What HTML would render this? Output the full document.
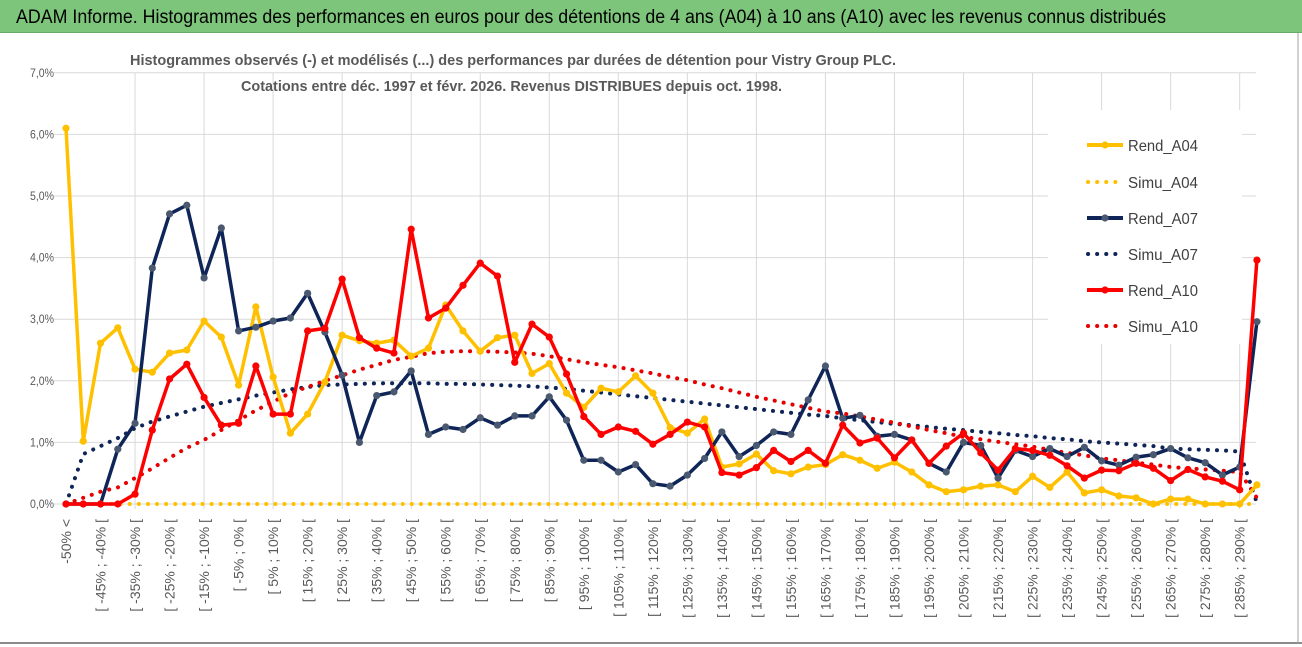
<!DOCTYPE html>
<html><head><meta charset="utf-8">
<style>
html,body{margin:0;padding:0;background:#fff;width:1302px;height:647px;overflow:hidden;font-family:"Liberation Sans",sans-serif;}
#title{position:absolute;left:0;top:0;width:1302px;height:32px;background:#7cc57a;border-bottom:1px solid #6aa868;}
svg{position:absolute;left:0;top:0;}
</style></head>
<body>
<div id="title"></div>
<svg id="chart" width="1302" height="647">
<text x="16" y="23" font-size="19" fill="#000" textLength="1150" lengthAdjust="spacingAndGlyphs">ADAM Informe. Histogrammes des performances en euros pour des détentions de 4 ans (A04) à 10 ans (A10) avec les revenus connus distribués</text>
</svg>
<script>
const rendA04=[6.1,1.02,2.61,2.86,2.19,2.14,2.45,2.5,2.97,2.71,1.93,3.2,2.06,1.15,1.46,1.98,2.74,2.65,2.61,2.66,2.4,2.53,3.23,2.81,2.48,2.7,2.74,2.12,2.28,1.8,1.57,1.88,1.82,2.08,1.8,1.24,1.15,1.38,0.6,0.65,0.81,0.54,0.49,0.6,0.64,0.8,0.71,0.58,0.68,0.52,0.31,0.2,0.23,0.29,0.31,0.2,0.45,0.27,0.52,0.18,0.23,0.13,0.1,0.0,0.08,0.08,0.0,0.0,0.0,0.31];
const rendA07=[0,0,0,0.89,1.31,3.83,4.71,4.85,3.67,4.48,2.81,2.87,2.97,3.02,3.42,2.79,2.09,1.0,1.76,1.82,2.16,1.13,1.25,1.21,1.4,1.28,1.43,1.43,1.74,1.36,0.71,0.71,0.52,0.64,0.33,0.29,0.47,0.74,1.17,0.77,0.95,1.17,1.13,1.69,2.24,1.39,1.44,1.1,1.13,1.04,0.66,0.52,1.0,0.95,0.42,0.87,0.77,0.9,0.77,0.92,0.7,0.63,0.76,0.8,0.9,0.75,0.67,0.47,0.6,2.96];
const rendA10=[0,0,0,0,0.16,1.2,2.03,2.27,1.73,1.28,1.31,2.24,1.46,1.46,2.81,2.85,3.65,2.7,2.53,2.45,4.46,3.02,3.18,3.55,3.91,3.7,2.3,2.92,2.71,2.11,1.42,1.13,1.25,1.18,0.97,1.13,1.33,1.25,0.51,0.47,0.59,0.87,0.69,0.87,0.66,1.28,0.99,1.07,0.75,1.04,0.66,0.94,1.15,0.83,0.55,0.9,0.87,0.79,0.62,0.42,0.55,0.54,0.66,0.58,0.38,0.56,0.44,0.37,0.23,3.96];
const simuA04=[0,0,0,0,0,0,0,0,0,0,0,0,0,0,0,0,0,0,0,0,0,0,0,0,0,0,0,0,0,0,0,0,0,0,0,0,0,0,0,0,0,0,0,0,0,0,0,0,0,0,0,0,0,0,0,0,0,0,0,0,0,0,0,0,0,0,0,0,0,0];
const simuA07=[0,0.81,0.94,1.07,1.23,1.34,1.42,1.5,1.58,1.64,1.7,1.76,1.81,1.86,1.9,1.93,1.94,1.95,1.96,1.96,1.96,1.96,1.95,1.95,1.94,1.93,1.92,1.91,1.89,1.87,1.84,1.81,1.78,1.75,1.72,1.69,1.66,1.63,1.6,1.57,1.54,1.51,1.48,1.45,1.43,1.39,1.36,1.33,1.3,1.28,1.25,1.22,1.2,1.17,1.15,1.12,1.1,1.07,1.05,1.02,1.0,0.98,0.96,0.94,0.9,0.89,0.88,0.87,0.85,0.02];
const simuA10=[0,0.1,0.2,0.27,0.42,0.58,0.75,0.91,1.04,1.2,1.36,1.52,1.66,1.8,1.9,2.0,2.09,2.18,2.26,2.34,2.39,2.45,2.47,2.48,2.48,2.47,2.46,2.44,2.4,2.35,2.3,2.26,2.22,2.17,2.12,2.06,2.01,1.94,1.88,1.81,1.74,1.68,1.62,1.56,1.5,1.47,1.42,1.37,1.32,1.26,1.2,1.15,1.09,1.05,1.01,0.97,0.93,0.88,0.83,0.79,0.74,0.71,0.67,0.64,0.6,0.58,0.56,0.54,0.52,0.1];
const yTicks=["0,0%","1,0%","2,0%","3,0%","4,0%","5,0%","6,0%","7,0%"];
const categories=["-50% <"];
for(let k=0;k<69;k++){const a=-50+5*k;categories.push("[ "+a+"% ; "+(a+5)+"% [");}

const svg=document.getElementById('chart');
const NS='http://www.w3.org/2000/svg';
const X0=66,DX=17.26,Y0=504,DY=61.6;
function xs(i){return X0+DX*i;}
function ys(v){return Y0-DY*v;}
function mk(tag,attrs,parent){const e=document.createElementNS(NS,tag);for(const k in attrs)e.setAttribute(k,attrs[k]);(parent||svg).appendChild(e);return e;}

const fr=mk('line',{x1:0,y1:643,x2:1302,y2:643,stroke:'#8c8c8c','stroke-width':2});


const fr2=mk('line',{x1:1298,y1:33,x2:1298,y2:643,stroke:'#a0a0a0','stroke-width':1});



for(let t=0;t<yTicks.length;t++){
  const g=mk('line',{x1:54,y1:ys(t),x2:1256,y2:ys(t),stroke:'#d9d9d9','stroke-width':1});
  
  
  const tx=mk('text',{x:54,y:ys(t)+4,'text-anchor':'end','font-size':12,fill:'#595959',textLength:24,lengthAdjust:'spacingAndGlyphs'});
  tx.textContent=yTicks[t];
  
  
}
for(let i=4;i<categories.length;i+=4){
  const g=mk('line',{x1:xs(i),y1:ys(7),x2:xs(i),y2:Y0+5,stroke:'#d9d9d9','stroke-width':1});
  
  
}
for(let i=0;i<categories.length;i+=2){
  const x=xs(i)+5,y=519;
  const tx=mk('text',{x:x,y:y,'text-anchor':'end','font-size':14,fill:'#595959',transform:`rotate(-90 ${x} ${y})`});
  tx.textContent=categories[i];
  
  
}
const t1=mk('text',{x:130,y:65,'font-size':15,fill:'#595959','font-weight':'bold',textLength:766,lengthAdjust:'spacingAndGlyphs'});
t1.textContent="Histogrammes observés (-) et modélisés (...) des performances par durées de détention pour Vistry Group PLC.";


const t2=mk('text',{x:241,y:91,'font-size':15,fill:'#595959','font-weight':'bold',textLength:541,lengthAdjust:'spacingAndGlyphs'});
t2.textContent="Cotations entre déc. 1997 et févr. 2026. Revenus DISTRIBUES depuis oct. 1998.";



const lb=mk('rect',{x:1048,y:110,width:194,height:234,fill:'#fff'});



function path(arr){return arr.map((v,i)=>(i?'L':'M')+xs(i).toFixed(1)+' '+ys(v).toFixed(1)).join(' ');}
function dotted(arr,color,name){
  const p=mk('path',{d:path(arr),fill:'none',stroke:color,'stroke-width':4,'stroke-dasharray':'0.1 9','stroke-linecap':'round'});
  
  
}
function solid(arr,color,mcolor,name){
  const p=mk('path',{d:path(arr),fill:'none',stroke:color,'stroke-width':3.5,'stroke-linejoin':'round'});
  
  
  arr.forEach((v,i)=>{
    const c=mk('circle',{cx:xs(i),cy:ys(v),r:3.6,fill:mcolor});
    
    
  });
}
dotted(simuA04,'#ffc000','simu-a04-line');
dotted(simuA07,'#0f2557','simu-a07-line');
dotted(simuA10,'#e60000','simu-a10-line');
solid(rendA04,'#ffc000','#ffc000','rend-a04-line');
solid(rendA07,'#0f2557','#4a5870','rend-a07-line');
solid(rendA10,'#ff0000','#ff0000','rend-a10-line');

const leg=[['Rend_A04','#ffc000','#ffc000',false],['Simu_A04','#ffc000','',true],['Rend_A07','#0f2557','#4a5870',false],['Simu_A07','#0f2557','',true],['Rend_A10','#ff0000','#ff0000',false],['Simu_A10','#e60000','',true]];
const legY=[145,182,218,254,290,326];
leg.forEach((l,k)=>{
  const y=legY[k];
  if(l[3]){
    const p=mk('line',{x1:1088,y1:y,x2:1122,y2:y,stroke:l[1],'stroke-width':4,'stroke-dasharray':'0.1 9','stroke-linecap':'round'});
    
    
  } else {
    const p=mk('line',{x1:1087,y1:y,x2:1123,y2:y,stroke:l[1],'stroke-width':4});
    
    
    const c=mk('circle',{cx:1105,cy:y,r:3.6,fill:l[2]});
    
    
  }
  const tx=mk('text',{x:1128,y:y+6,'font-size':16,fill:'#404040',textLength:70,lengthAdjust:'spacingAndGlyphs'});
  tx.textContent=l[0];
  
  
});
</script>
</body></html>
